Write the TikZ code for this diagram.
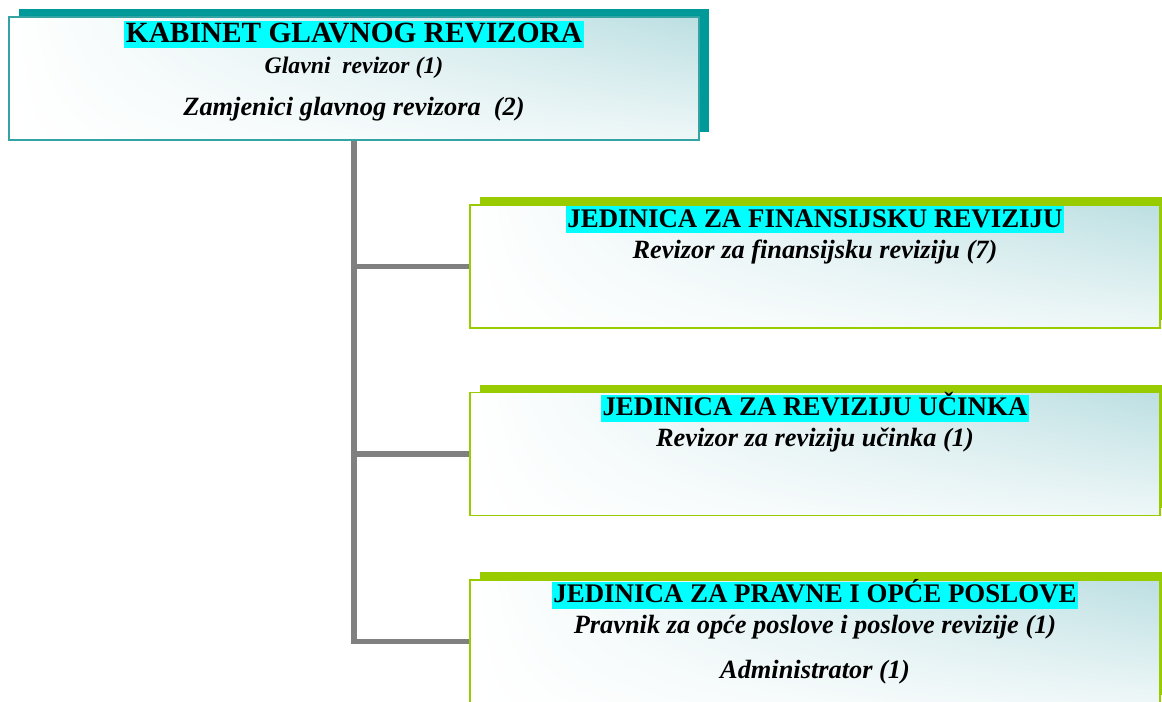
\documentclass[tikz,border=0pt]{standalone}
\usepackage{fontspec}
\setmainfont{Liberation Serif}
\usetikzlibrary{positioning}
\usetikzlibrary{shadows}
\usetikzlibrary{shadings}
\definecolor{kabinetTeal}{HTML}{009999}
\definecolor{kabinetLine}{HTML}{33A3A3}
\definecolor{jedinicaGreen}{HTML}{99CC00}
\definecolor{boxTint}{HTML}{BCDFE2}
\definecolor{headCyan}{HTML}{00FFFF}
\tikzset{
    box/.style={minimum width=13.8cm, minimum height=2.46cm, line width=1.1pt,
        upper left=white, lower left=white, upper right=boxTint, lower right=boxTint!25},
    kabinet/.style={box, draw=kabinetLine,
        general shadow={fill=kabinetTeal, shadow xshift=0.2cm, shadow yshift=0.16cm}},
    jedinica/.style={box, draw=jedinicaGreen,
        general shadow={fill=jedinicaGreen, shadow xshift=0.2cm, shadow yshift=0.16cm}},
    head/.style={fill=headCyan, inner xsep=1pt, inner ysep=0pt, text height=0.42cm, text depth=0.12cm,
        font=\fontsize{15.3}{18}\selectfont\bfseries},
    sub/.style={inner sep=0pt, text height=0.36cm, text depth=0.1cm,
        font=\fontsize{15}{18}\selectfont\bfseries\itshape},
    link/.style={line width=3.4pt, draw=gray}
}
\begin{document}
\begin{tikzpicture}
    \clip(0, 0)rectangle(23.24, 14.02);
    \node[kabinet](kabinet)at(7.08, 12.45){};
    \node[jedinica](fin)at(16.3, 8.69){};
    \node[jedinica](ucinak)at(16.3, 4.94){};
    \node[jedinica](pravne)at(16.3, 1.19){};
    \foreach \unit in {fin, ucinak, pravne}
        \draw[link](kabinet.south)|-(\unit.west);
    \node[head, font=\fontsize{16.7}{19}\selectfont\bfseries, below=0.1cm of kabinet.north](kabinet-head){KABINET GLAVNOG REVIZORA};
    \node[sub, font=\fontsize{13.5}{16}\selectfont\bfseries\itshape, below=0.12cm of kabinet-head](glavni){Glavni\ \ revizor (1)};
    \node[sub, below=0.38cm of glavni](zamjenici){Zamjenici glavnog revizora\ \ (2)};
    \node[head, below=0.04cm of fin.north](fin-head){JEDINICA ZA FINANSIJSKU REVIZIJU};
    \node[sub, below=0.12cm of fin-head](fin-sub){Revizor za finansijsku reviziju (7)};
    \node[head, below=0.06cm of ucinak.north](ucinak-head){JEDINICA ZA REVIZIJU UČINKA};
    \node[sub, below=0.12cm of ucinak-head](ucinak-sub){Revizor za reviziju učinka (1)};
    \node[head, below=0.05cm of pravne.north](pravne-head){JEDINICA ZA PRAVNE I OPĆE POSLOVE};
    \node[sub, below=0.12cm of pravne-head](pravnik){Pravnik za opće poslove i poslove revizije (1)};
    \node[sub, below=0.42cm of pravnik](admin){Administrator (1)};
\end{tikzpicture}
\end{document}
